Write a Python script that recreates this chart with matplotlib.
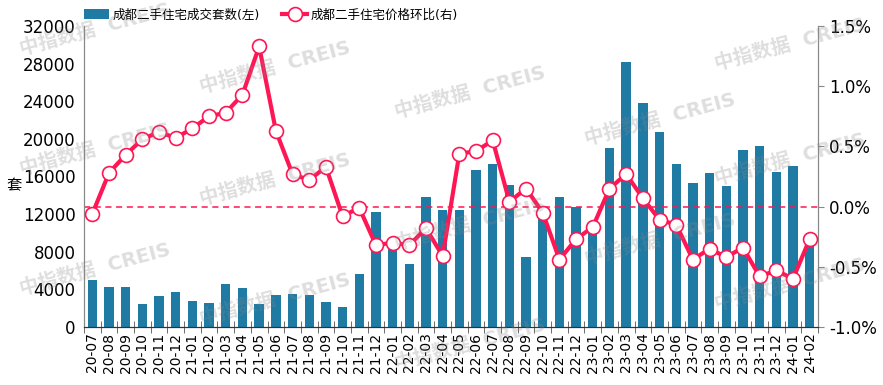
import matplotlib
matplotlib.use("Agg")
import matplotlib.pyplot as plt
from matplotlib.ticker import FixedLocator, FuncFormatter

plt.rcParams['font.family'] = ['DejaVu Sans', 'Noto Sans CJK SC']

# months 2020-07 .. 2024-02
months = ['20-07', '20-08', '20-09', '20-10', '20-11', '20-12',
          '21-01', '21-02', '21-03', '21-04', '21-05', '21-06',
          '21-07', '21-08', '21-09', '21-10', '21-11', '21-12',
          '22-01', '22-02', '22-03', '22-04', '22-05', '22-06',
          '22-07', '22-08', '22-09', '22-10', '22-11', '22-12',
          '23-01', '23-02', '23-03', '23-04', '23-05', '23-06',
          '23-07', '23-08', '23-09', '23-10', '23-11', '23-12',
          '24-01', '24-02']

# 成交套数 (left axis)
volume = [4950, 4300, 4250, 2480, 3320, 3720,
          2800, 2550, 4530, 4140, 2480, 3360,
          3500, 3400, 2610, 2080, 5660, 12210,
          8800, 6720, 13840, 12420, 12420, 16670,
          17310, 15110, 7400, 11900, 13770, 12780,
          10300, 19080, 28180, 23790, 20710, 17380,
          15330, 16350, 14970, 18870, 19290, 16490,
          17130, 9000]

# 价格环比 % (right axis)
mom = [-0.06, 0.28, 0.43, 0.56, 0.62, 0.57,
       0.65, 0.75, 0.78, 0.93, 1.33, 0.63,
       0.27, 0.22, 0.33, -0.08, -0.01, -0.32,
       -0.30, -0.32, -0.18, -0.41, 0.44, 0.46,
       0.55, 0.04, 0.15, -0.05, -0.44, -0.27,
       -0.17, 0.15, 0.27, 0.07, -0.11, -0.15,
       -0.44, -0.35, -0.42, -0.34, -0.58, -0.53,
       -0.60, -0.27]

bar_color = '#1f7aa4'
line_color = '#ff1654'

fig = plt.figure(figsize=(8.83, 3.85), dpi=100)
ax = fig.add_axes([84 / 883, 1 - 327 / 385, 734 / 883, 301 / 385])
ax2 = ax.twinx()

xs = range(len(months))
ax.bar(xs, volume, width=0.56, color=bar_color, label='成都二手住宅成交套数(左)', zorder=2)
ax.set_ylim(0, 32000)
ax.set_yticks(range(0, 32001, 4000))
ax.set_xlim(-0.5, len(months) - 0.5)
ax.set_xticks(list(xs))
ax.set_xticklabels(months, rotation=90, fontsize=10)
ax.xaxis.set_minor_locator(FixedLocator([i - 0.5 for i in range(len(months) + 1)]))
ax.tick_params(axis='x', which='major', length=0, pad=4)
ax.tick_params(axis='x', which='minor', direction='inout', length=8, color='#555555')
ax.tick_params(axis='y', length=0, labelsize=12, pad=6)
ax.set_ylabel('套', rotation=0, fontsize=11, labelpad=8, va='center')
ax.yaxis.set_label_coords(-0.095, 0.47)

ax2.plot(xs, mom, color=line_color, linewidth=3, marker='o', markersize=10,
         markerfacecolor='white', markeredgecolor=line_color, markeredgewidth=1.2,
         label='成都二手住宅价格环比(右)', zorder=3)
ax2.axhline(0, color=line_color, linewidth=1.1, linestyle=(0, (4, 3)), zorder=1)
ax2.set_ylim(-1.0, 1.5)
ax2.set_yticks([-1.0, -0.5, 0.0, 0.5, 1.0, 1.5])
ax2.yaxis.set_major_formatter(FuncFormatter(lambda v, p: f'{v:.1f}%'))
ax2.tick_params(axis='y', direction='out', length=4, color='#888888', labelsize=12, pad=4)

for a in (ax, ax2):
    a.spines['top'].set_visible(False)
    a.spines['left'].set_color('#888888')
    a.spines['right'].set_color('#888888')
    a.spines['bottom'].set_color('#333333')
    a.patch.set_visible(False)

h1, l1 = ax.get_legend_handles_labels()
h2, l2 = ax2.get_legend_handles_labels()
fig.legend(h1 + h2, l1 + l2, loc='center', bbox_to_anchor=(271 / 883, 1 - 15 / 385),
           ncol=2, frameon=False, fontsize=9, handlelength=2.0, handleheight=0.9,
           columnspacing=1.8, handletextpad=0.3)

# watermark, faint, on top of everything
for x, y in [(95, 30), (275, 68), (470, 93), (660, 120), (790, 45),
             (95, 150), (275, 180), (470, 225), (790, 160),
             (95, 270), (275, 300), (470, 345), (660, 240), (790, 285)]:
    fig.text(x / 883, 1 - y / 385, '中指数据  CREIS', color='#888888', alpha=0.28,
             fontsize=14, fontweight='bold', rotation=15,
             ha='center', va='center', zorder=10)

fig.savefig('out.png', dpi=100)
